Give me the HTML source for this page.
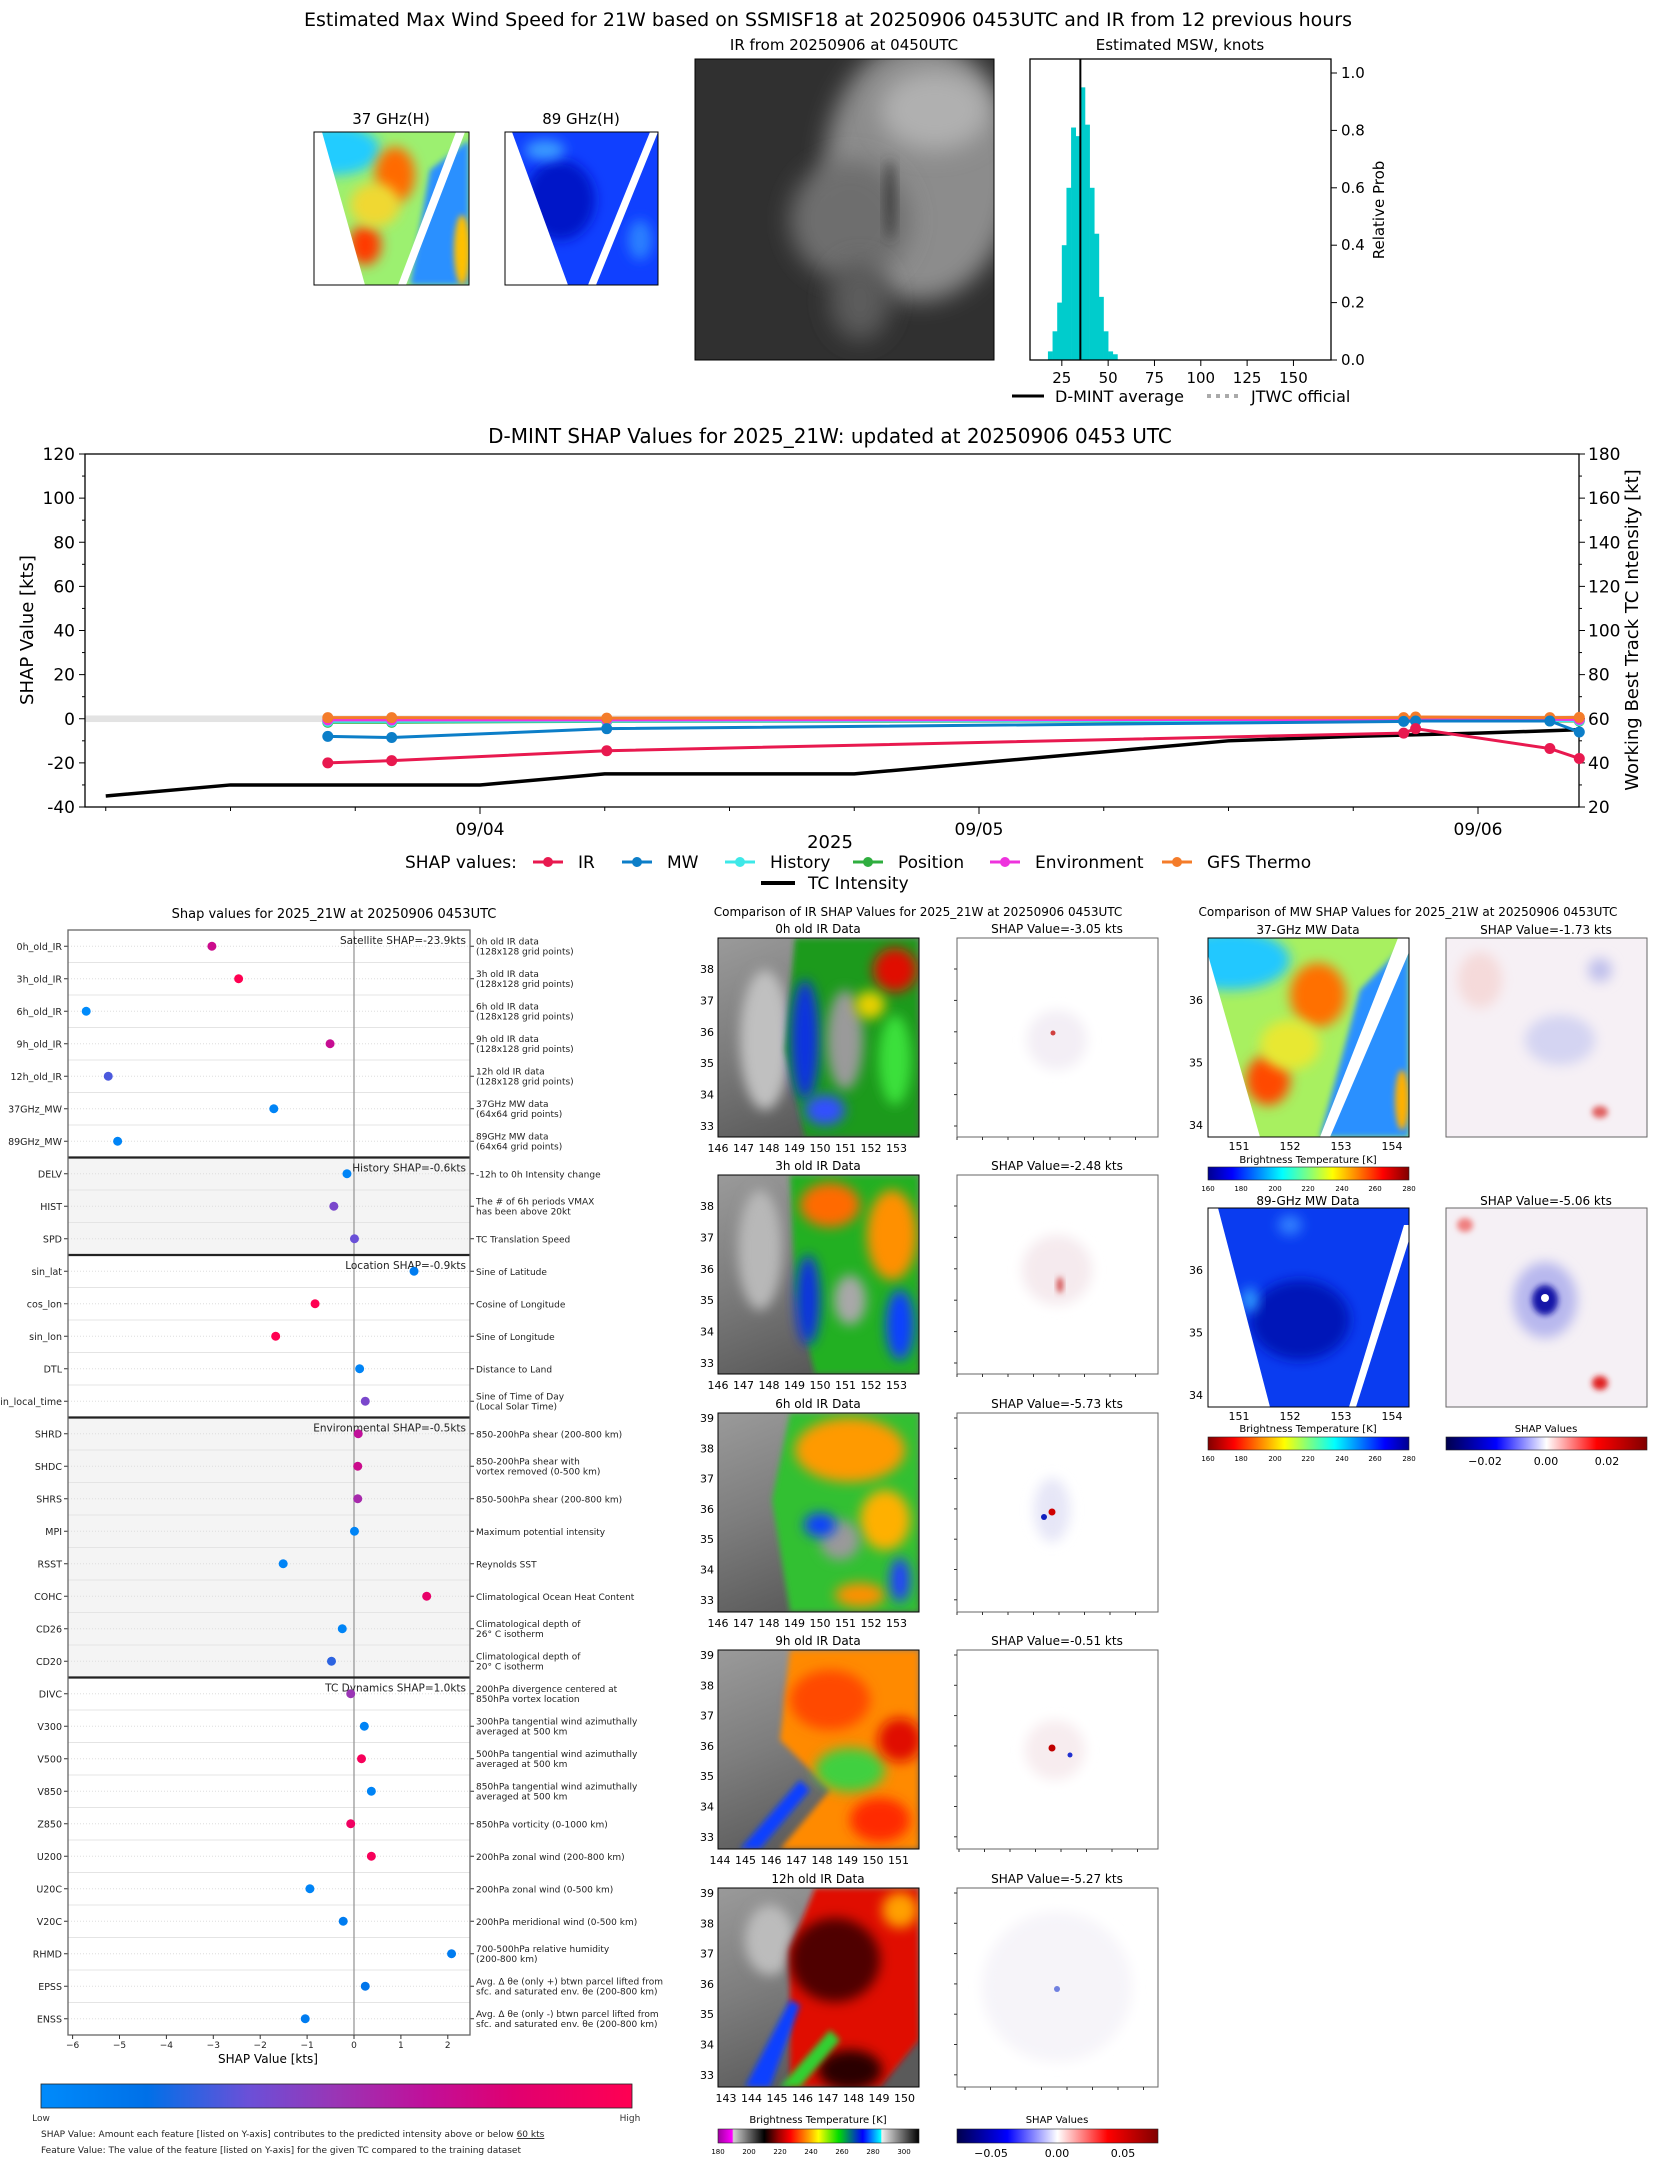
<!DOCTYPE html>
<html><head><meta charset="utf-8">
<style>
html,body{margin:0;padding:0;background:#fff;}
svg{display:block;font-family:"DejaVu Sans","Liberation Sans",sans-serif;}
</style></head>
<body>
<svg id="root" width="1655" height="2158" viewBox="0 0 1655 2158" xmlns="http://www.w3.org/2000/svg">
<defs>
<filter id="b12" x="-50%" y="-50%" width="200%" height="200%"><feGaussianBlur stdDeviation="12"/></filter>
<filter id="b6" x="-50%" y="-50%" width="200%" height="200%"><feGaussianBlur stdDeviation="6"/></filter>
<filter id="b3" x="-50%" y="-50%" width="200%" height="200%"><feGaussianBlur stdDeviation="3"/></filter>
<linearGradient id="jet" x1="0" x2="1"><stop offset="0" stop-color="#00008f"/><stop offset="0.12" stop-color="#0000ff"/><stop offset="0.37" stop-color="#00ffff"/><stop offset="0.5" stop-color="#7fff7f"/><stop offset="0.62" stop-color="#ffff00"/><stop offset="0.87" stop-color="#ff0000"/><stop offset="1" stop-color="#800000"/></linearGradient>
<linearGradient id="jetr" x1="1" x2="0"><stop offset="0" stop-color="#00008f"/><stop offset="0.12" stop-color="#0000ff"/><stop offset="0.37" stop-color="#00ffff"/><stop offset="0.5" stop-color="#7fff7f"/><stop offset="0.62" stop-color="#ffff00"/><stop offset="0.87" stop-color="#ff0000"/><stop offset="1" stop-color="#800000"/></linearGradient>
<linearGradient id="seis" x1="0" x2="1"><stop offset="0" stop-color="#00004c"/><stop offset="0.25" stop-color="#0000ff"/><stop offset="0.5" stop-color="#ffffff"/><stop offset="0.75" stop-color="#ff0000"/><stop offset="1" stop-color="#800000"/></linearGradient>
<linearGradient id="shapcm" x1="0" x2="1"><stop offset="0" stop-color="#008bfb"/><stop offset="0.18" stop-color="#0070e8"/><stop offset="0.35" stop-color="#6a50d8"/><stop offset="0.5" stop-color="#9a35b5"/><stop offset="0.65" stop-color="#c0109a"/><stop offset="0.8" stop-color="#e00070"/><stop offset="1" stop-color="#ff0052"/></linearGradient>
<linearGradient id="ircm" x1="0" x2="1">
<stop offset="0" stop-color="#a000a0"/><stop offset="0.07" stop-color="#ff00ff"/><stop offset="0.077" stop-color="#d0d0d0"/><stop offset="0.23" stop-color="#000"/><stop offset="0.3" stop-color="#900"/><stop offset="0.36" stop-color="#f00"/><stop offset="0.45" stop-color="#ffa000"/><stop offset="0.5" stop-color="#ff0"/><stop offset="0.6" stop-color="#0d0"/><stop offset="0.72" stop-color="#00f"/><stop offset="0.81" stop-color="#0ff"/><stop offset="0.815" stop-color="#eee"/><stop offset="1" stop-color="#000"/></linearGradient>
<linearGradient id="gray1" x1="0" y1="0" x2="0.4" y2="1"><stop offset="0" stop-color="#9a9a9a"/><stop offset="0.5" stop-color="#7d7d7d"/><stop offset="1" stop-color="#5a5a5a"/></linearGradient>
<clipPath id="c0"><rect x="718" y="938" width="201" height="199"/></clipPath>
<clipPath id="c1"><rect x="718" y="1175" width="201" height="199"/></clipPath>
<clipPath id="c2"><rect x="718" y="1413" width="201" height="199"/></clipPath>
<clipPath id="c3"><rect x="718" y="1650" width="201" height="199"/></clipPath>
<clipPath id="c4"><rect x="718" y="1888" width="201" height="199"/></clipPath>
<clipPath id="ctop"><rect x="695" y="59" width="299" height="301"/></clipPath>
<clipPath id="cm37"><rect x="1208" y="938" width="201" height="199"/></clipPath>
<clipPath id="cm89"><rect x="1208" y="1208" width="201" height="199"/></clipPath>
<clipPath id="cms1"><rect x="1446" y="938" width="201" height="199"/></clipPath>
<clipPath id="cms2"><rect x="1446" y="1208" width="201" height="199"/></clipPath>
<clipPath id="ct37"><rect x="314" y="132" width="155" height="153"/></clipPath>
<clipPath id="ct89"><rect x="505" y="132" width="153" height="153"/></clipPath>
<clipPath id="csi"><rect x="957" y="938" width="201" height="1149"/></clipPath>
</defs>

<!-- ============ TOP SECTION ============ -->
<text x="828" y="26" font-size="19" text-anchor="middle">Estimated Max Wind Speed for 21W based on SSMISF18 at 20250906 0453UTC and IR from 12 previous hours</text>
<text x="391" y="124" font-size="15" text-anchor="middle">37 GHz(H)</text>
<text x="581" y="124" font-size="15" text-anchor="middle">89 GHz(H)</text>
<g clip-path="url(#ct37)">
<rect x="314" y="132" width="155" height="153" fill="#9cf070"/>
<ellipse cx="335" cy="150" rx="45" ry="25" fill="#22ccff" filter="url(#b6)"/>
<ellipse cx="395" cy="175" rx="20" ry="28" fill="#ff6a00" filter="url(#b6)"/>
<ellipse cx="365" cy="245" rx="16" ry="20" fill="#ff3a00" filter="url(#b6)"/>
<ellipse cx="375" cy="205" rx="25" ry="22" fill="#f0d830" filter="url(#b6)"/>
<polygon points="430,170 469,140 469,285 410,285" fill="#2a90ff" filter="url(#b3)"/>
<ellipse cx="462" cy="250" rx="8" ry="35" fill="#ffc000" filter="url(#b3)"/>
<polygon points="314,132 322,132 365,285 314,285" fill="#fff"/>
<polygon points="456,132 465,132 406,285 398,285" fill="#fff"/>
</g>
<rect x="314" y="132" width="155" height="153" fill="none" stroke="#000" stroke-width="1"/>
<g clip-path="url(#ct89)">
<rect x="505" y="132" width="153" height="153" fill="#1040ff"/>
<ellipse cx="560" cy="200" rx="35" ry="40" fill="#0014c8" filter="url(#b6)"/>
<ellipse cx="545" cy="150" rx="20" ry="10" fill="#3a9cff" filter="url(#b6)"/>
<ellipse cx="640" cy="240" rx="12" ry="20" fill="#2a80ff" filter="url(#b6)"/>
<polygon points="505,132 512,132 568,285 505,285" fill="#fff"/>
<polygon points="650,132 658,132 596,285 588,285" fill="#fff"/>
</g>
<rect x="505" y="132" width="153" height="153" fill="none" stroke="#000"/>
<text x="844" y="50" font-size="15" text-anchor="middle">IR from 20250906 at 0450UTC</text>
<g clip-path="url(#ctop)">
<rect x="695" y="59" width="299" height="301" fill="#303030"/>
<ellipse cx="920" cy="170" rx="95" ry="130" fill="#8c8c8c" filter="url(#b12)"/>
<ellipse cx="850" cy="220" rx="60" ry="60" fill="#6e6e6e" filter="url(#b12)"/>
<ellipse cx="935" cy="110" rx="55" ry="40" fill="#b0b0b0" filter="url(#b12)"/>
<ellipse cx="860" cy="300" rx="30" ry="40" fill="#5c5c5c" filter="url(#b12)"/>
<ellipse cx="890" cy="200" rx="5" ry="40" fill="#3a3a3a" filter="url(#b6)"/>
</g>
<rect x="695" y="59" width="299" height="301" fill="none" stroke="#000"/>
<text x="1180" y="50" font-size="15" text-anchor="middle">Estimated MSW, knots</text>
<g id="hist"></g>
<rect x="1030" y="59" width="301" height="301" fill="none" stroke="#000" stroke-width="1.3"/>
<text transform="translate(1374,210) rotate(-90)" font-size="15" text-anchor="middle" dy="10">Relative Prob</text>
<g>
<line x1="1012" y1="396" x2="1044" y2="396" stroke="#000" stroke-width="3"/>
<text x="1055" y="402" font-size="16">D-MINT average</text>
<line x1="1207" y1="396" x2="1239" y2="396" stroke="#aaa" stroke-width="4" stroke-dasharray="4,5"/>
<text x="1251" y="402" font-size="16">JTWC official</text>
</g>

<!-- ============ MIDDLE CHART ============ -->
<text x="830" y="443" font-size="20" text-anchor="middle">D-MINT SHAP Values for 2025_21W: updated at 20250906 0453 UTC</text>
<g id="ts"></g>
<text transform="translate(33,630) rotate(-90)" font-size="18" text-anchor="middle">SHAP Value [kts]</text>
<text transform="translate(1638,630) rotate(-90)" font-size="18" text-anchor="middle">Working Best Track TC Intensity [kt]</text>
<text x="830" y="848" font-size="18" text-anchor="middle">2025</text>
<g>
<text x="405" y="868" font-size="17">SHAP values:</text>
<g><line x1="533" y1="862" x2="563" y2="862" stroke="#e8194f" stroke-width="3"/><circle cx="548" cy="862" r="5" fill="#e8194f"/><text x="578" y="868" font-size="17">IR</text></g>
<g><line x1="622" y1="862" x2="652" y2="862" stroke="#0c7ec8" stroke-width="3"/><circle cx="637" cy="862" r="5" fill="#0c7ec8"/><text x="667" y="868" font-size="17">MW</text></g>
<g><line x1="725" y1="862" x2="755" y2="862" stroke="#3ee8e8" stroke-width="3"/><circle cx="740" cy="862" r="5" fill="#3ee8e8"/><text x="770" y="868" font-size="17">History</text></g>
<g><line x1="853" y1="862" x2="883" y2="862" stroke="#2fae3f" stroke-width="3"/><circle cx="868" cy="862" r="5" fill="#2fae3f"/><text x="898" y="868" font-size="17">Position</text></g>
<g><line x1="990" y1="862" x2="1020" y2="862" stroke="#ee33dd" stroke-width="3"/><circle cx="1005" cy="862" r="5" fill="#ee33dd"/><text x="1035" y="868" font-size="17">Environment</text></g>
<g><line x1="1162" y1="862" x2="1192" y2="862" stroke="#f47c2a" stroke-width="3"/><circle cx="1177" cy="862" r="5" fill="#f47c2a"/><text x="1207" y="868" font-size="17">GFS Thermo</text></g>
<g><line x1="761" y1="883" x2="795" y2="883" stroke="#000" stroke-width="4"/><text x="808" y="889" font-size="17">TC Intensity</text></g>
</g>

<!-- ============ LEFT SHAP PANEL ============ -->
<text x="334" y="918" font-size="13" text-anchor="middle">Shap values for 2025_21W at 20250906 0453UTC</text>
<g id="sp"></g>
<text x="268" y="2063" font-size="12" text-anchor="middle">SHAP Value [kts]</text>
<rect x="41" y="2084" width="591" height="24" fill="url(#shapcm)" stroke="#222" stroke-width="0.8"/>
<text x="41" y="2121" font-size="9" text-anchor="middle" fill="#333">Low</text>
<text x="630" y="2121" font-size="9" text-anchor="middle" fill="#333">High</text>
<text x="41" y="2137" font-size="9" fill="#222">SHAP Value: Amount each feature [listed on Y-axis] contributes to the predicted intensity above or below <tspan text-decoration="underline">60 kts</tspan></text>
<text x="41" y="2153" font-size="9" fill="#222">Feature Value: The value of the feature [listed on Y-axis] for the given TC compared to the training dataset</text>

<!-- ============ IR COMPARISON ============ -->
<text x="918" y="916" font-size="12" text-anchor="middle">Comparison of IR SHAP Values for 2025_21W at 20250906 0453UTC</text>
<text x="1408" y="916" font-size="12" text-anchor="middle">Comparison of MW SHAP Values for 2025_21W at 20250906 0453UTC</text>

<!-- 0h IR -->
<g clip-path="url(#c0)">
<rect x="718" y="938" width="201" height="199" fill="url(#gray1)"/>
<ellipse cx="765" cy="1040" rx="25" ry="70" fill="#c0c0c0" filter="url(#b6)"/>
<polygon points="795,938 919,938 919,1137 805,1137 785,1050" fill="#1a9a1a" filter="url(#b3)"/>
<ellipse cx="805" cy="1040" rx="14" ry="60" fill="#1030e0" filter="url(#b6)"/>
<ellipse cx="845" cy="1040" rx="18" ry="50" fill="#9a9a9a" filter="url(#b6)"/>
<ellipse cx="895" cy="970" rx="22" ry="22" fill="#e01000" filter="url(#b6)"/>
<ellipse cx="870" cy="1005" rx="15" ry="14" fill="#e8d000" filter="url(#b6)"/>
<ellipse cx="895" cy="1060" rx="16" ry="45" fill="#3ae03a" filter="url(#b6)"/>
<ellipse cx="825" cy="1110" rx="20" ry="15" fill="#3050ff" filter="url(#b6)"/>
</g>
<rect x="718" y="938" width="201" height="199" fill="none" stroke="#000"/>
<text x="818" y="933" font-size="12" text-anchor="middle">0h old IR Data</text>
<!-- 3h IR -->
<g clip-path="url(#c1)">
<rect x="718" y="1175" width="201" height="199" fill="url(#gray1)"/>
<ellipse cx="760" cy="1250" rx="22" ry="60" fill="#b8b8b8" filter="url(#b6)"/>
<polygon points="790,1175 919,1175 919,1374 815,1374 795,1290" fill="#22b022" filter="url(#b3)"/>
<ellipse cx="830" cy="1205" rx="30" ry="22" fill="#ff6a00" filter="url(#b6)"/>
<ellipse cx="892" cy="1235" rx="25" ry="45" fill="#ff9000" filter="url(#b6)"/>
<ellipse cx="850" cy="1300" rx="16" ry="25" fill="#a8a8a8" filter="url(#b6)"/>
<ellipse cx="808" cy="1300" rx="12" ry="45" fill="#1030e0" filter="url(#b6)"/>
<ellipse cx="900" cy="1325" rx="14" ry="35" fill="#1040ff" filter="url(#b6)"/>
</g>
<rect x="718" y="1175" width="201" height="199" fill="none" stroke="#000"/>
<text x="818" y="1170" font-size="12" text-anchor="middle">3h old IR Data</text>
<!-- 6h IR -->
<g clip-path="url(#c2)">
<rect x="718" y="1413" width="201" height="199" fill="url(#gray1)"/>
<polygon points="790,1413 919,1413 919,1612 790,1612 772,1500" fill="#30c030" filter="url(#b3)"/>
<ellipse cx="850" cy="1450" rx="55" ry="32" fill="#ff9a00" filter="url(#b6)"/>
<ellipse cx="885" cy="1520" rx="25" ry="30" fill="#ffb000" filter="url(#b6)"/>
<ellipse cx="840" cy="1540" rx="20" ry="20" fill="#9a9a9a" filter="url(#b6)"/>
<ellipse cx="820" cy="1525" rx="16" ry="12" fill="#1040ff" filter="url(#b6)"/>
<ellipse cx="860" cy="1595" rx="25" ry="12" fill="#ff9000" filter="url(#b6)"/>
<ellipse cx="900" cy="1580" rx="10" ry="22" fill="#2040ff" filter="url(#b6)"/>
</g>
<rect x="718" y="1413" width="201" height="199" fill="none" stroke="#000"/>
<text x="818" y="1408" font-size="12" text-anchor="middle">6h old IR Data</text>
<!-- 9h IR -->
<g clip-path="url(#c3)">
<rect x="718" y="1650" width="201" height="199" fill="url(#gray1)"/>
<polygon points="790,1650 919,1650 919,1849 780,1849 830,1790 780,1740" fill="#ff8a00" filter="url(#b3)"/>
<ellipse cx="830" cy="1700" rx="40" ry="30" fill="#ff4a00" filter="url(#b6)"/>
<ellipse cx="850" cy="1770" rx="35" ry="22" fill="#40d040" filter="url(#b6)"/>
<ellipse cx="900" cy="1740" rx="22" ry="22" fill="#e01000" filter="url(#b6)"/>
<ellipse cx="880" cy="1820" rx="30" ry="22" fill="#ff2a00" filter="url(#b6)"/>
<polygon points="740,1849 800,1780 810,1790 760,1849" fill="#1040ff" filter="url(#b3)"/>
</g>
<rect x="718" y="1650" width="201" height="199" fill="none" stroke="#000"/>
<text x="818" y="1645" font-size="12" text-anchor="middle">9h old IR Data</text>
<!-- 12h IR -->
<g clip-path="url(#c4)">
<rect x="718" y="1888" width="201" height="199" fill="url(#gray1)"/>
<ellipse cx="770" cy="1940" rx="25" ry="35" fill="#bcbcbc" filter="url(#b6)"/>
<polygon points="815,1888 919,1888 919,2040 880,2087 790,2087 790,1950" fill="#e01000" filter="url(#b3)"/>
<ellipse cx="835" cy="1960" rx="45" ry="42" fill="#500000" filter="url(#b6)"/>
<ellipse cx="900" cy="1910" rx="18" ry="18" fill="#ffa000" filter="url(#b6)"/>
<ellipse cx="850" cy="2070" rx="32" ry="20" fill="#2a0000" filter="url(#b6)"/>
<polygon points="745,2087 790,2000 800,2005 770,2087" fill="#1040ff" filter="url(#b3)"/>
<polygon points="780,2087 830,2030 840,2040 800,2087" fill="#30d030" filter="url(#b3)"/>
</g>
<rect x="718" y="1888" width="201" height="199" fill="none" stroke="#000"/>
<text x="818" y="1883" font-size="12" text-anchor="middle">12h old IR Data</text>

<!-- IR SHAP maps -->
<g>
<rect x="957" y="938" width="201" height="199" fill="#fff" stroke="#666"/>
<ellipse cx="1057" cy="1040" rx="30" ry="30" fill="#f3eef5" filter="url(#b6)"/>
<circle cx="1053" cy="1033" r="2.5" fill="#d04040"/>
<rect x="957" y="1175" width="201" height="199" fill="#fff" stroke="#666"/>
<ellipse cx="1057" cy="1270" rx="35" ry="35" fill="#f5eaee" filter="url(#b6)"/>
<ellipse cx="1060" cy="1285" rx="3" ry="8" fill="#d04040" filter="url(#b3)"/>
<rect x="957" y="1413" width="201" height="199" fill="#fff" stroke="#666"/>
<ellipse cx="1052" cy="1510" rx="18" ry="32" fill="#e6e6f7" filter="url(#b6)"/>
<circle cx="1052" cy="1512" r="3.5" fill="#d00000"/>
<circle cx="1044" cy="1517" r="3" fill="#1020c0"/>
<rect x="957" y="1650" width="201" height="199" fill="#fff" stroke="#666"/>
<ellipse cx="1055" cy="1750" rx="30" ry="30" fill="#f7ecef" filter="url(#b6)"/>
<circle cx="1052" cy="1748" r="3.5" fill="#c00000"/>
<circle cx="1070" cy="1755" r="2.5" fill="#2030d0"/>
<rect x="957" y="1888" width="201" height="199" fill="#fff" stroke="#666"/>
<ellipse cx="1057" cy="1987" rx="75" ry="75" fill="#f6f4f9" filter="url(#b6)"/>
<circle cx="1057" cy="1989" r="3" fill="#7080e0"/>
</g>
<text x="1057" y="933" font-size="12" text-anchor="middle">SHAP Value=-3.05 kts</text>
<text x="1057" y="1170" font-size="12" text-anchor="middle">SHAP Value=-2.48 kts</text>
<text x="1057" y="1408" font-size="12" text-anchor="middle">SHAP Value=-5.73 kts</text>
<text x="1057" y="1645" font-size="12" text-anchor="middle">SHAP Value=-0.51 kts</text>
<text x="1057" y="1883" font-size="12" text-anchor="middle">SHAP Value=-5.27 kts</text>
<g id="irticks" font-size="11"></g>
<text x="818" y="2123" font-size="10" text-anchor="middle">Brightness Temperature [K]</text>
<rect x="718" y="2129" width="201" height="14" fill="url(#ircm)" stroke="#222" stroke-width="0.6"/>
<g font-size="7" text-anchor="middle"><text x="718" y="2154">180</text><text x="749" y="2154">200</text><text x="780" y="2154">220</text><text x="811" y="2154">240</text><text x="842" y="2154">260</text><text x="873" y="2154">280</text><text x="904" y="2154">300</text></g>
<text x="1057" y="2123" font-size="10" text-anchor="middle">SHAP Values</text>
<rect x="957" y="2129" width="201" height="14" fill="url(#seis)" stroke="#222" stroke-width="0.6"/>
<g font-size="11" text-anchor="middle"><text x="991" y="2157">−0.05</text><text x="1057" y="2157">0.00</text><text x="1123" y="2157">0.05</text></g>

<!-- MW -->
<text x="1308" y="934" font-size="12" text-anchor="middle">37-GHz MW Data</text>
<g clip-path="url(#cm37)">
<rect x="1208" y="938" width="201" height="199" fill="#a8f060"/>
<ellipse cx="1230" cy="960" rx="60" ry="30" fill="#20c8ff" filter="url(#b6)"/>
<ellipse cx="1318" cy="995" rx="28" ry="32" fill="#ff7000" filter="url(#b6)"/>
<ellipse cx="1268" cy="1080" rx="22" ry="25" fill="#ff4a00" filter="url(#b6)"/>
<ellipse cx="1290" cy="1045" rx="30" ry="25" fill="#e8e830" filter="url(#b6)"/>
<polygon points="1360,990 1409,940 1409,1137 1320,1137" fill="#2a90ff" filter="url(#b3)"/>
<ellipse cx="1402" cy="1100" rx="7" ry="30" fill="#ffb000" filter="url(#b3)"/>
<polygon points="1208,938 1208,955 1260,1137 1208,1137" fill="#fff"/>
<polygon points="1398,938 1409,938 1409,952 1330,1137 1320,1137" fill="#fff"/>
</g>
<rect x="1208" y="938" width="201" height="199" fill="none" stroke="#000"/>
<text x="1546" y="934" font-size="12" text-anchor="middle">SHAP Value=-1.73 kts</text>
<g clip-path="url(#cms1)">
<rect x="1446" y="938" width="201" height="199" fill="#f6f0f5"/>
<ellipse cx="1480" cy="980" rx="22" ry="28" fill="#f5dada" filter="url(#b6)"/>
<ellipse cx="1560" cy="1040" rx="35" ry="25" fill="#d4d4f2" filter="url(#b6)"/>
<ellipse cx="1600" cy="970" rx="12" ry="12" fill="#c0c0ec" filter="url(#b6)"/>
<ellipse cx="1600" cy="1112" rx="8" ry="6" fill="#e06060" filter="url(#b3)"/>
</g>
<rect x="1446" y="938" width="201" height="199" fill="none" stroke="#666"/>
<text x="1308" y="1163" font-size="10" text-anchor="middle">Brightness Temperature [K]</text>
<rect x="1208" y="1167" width="201" height="13" fill="url(#jet)" stroke="#222" stroke-width="0.6"/>
<g font-size="7" text-anchor="middle"><text x="1208" y="1191">160</text><text x="1241" y="1191">180</text><text x="1275" y="1191">200</text><text x="1308" y="1191">220</text><text x="1342" y="1191">240</text><text x="1375" y="1191">260</text><text x="1409" y="1191">280</text></g>

<text x="1308" y="1205" font-size="12" text-anchor="middle">89-GHz MW Data</text>
<g clip-path="url(#cm89)">
<rect x="1208" y="1208" width="201" height="199" fill="#0a3cf0"/>
<ellipse cx="1300" cy="1320" rx="50" ry="40" fill="#0018b8" filter="url(#b6)"/>
<ellipse cx="1250" cy="1300" rx="8" ry="12" fill="#30a0ff" filter="url(#b6)"/>
<ellipse cx="1290" cy="1225" rx="12" ry="10" fill="#3080ff" filter="url(#b6)"/>
<polygon points="1208,1208 1218,1208 1270,1407 1208,1407" fill="#fff"/>
<polygon points="1404,1225 1409,1225 1409,1240 1356,1407 1349,1407" fill="#fff"/>
</g>
<rect x="1208" y="1208" width="201" height="199" fill="none" stroke="#000"/>
<text x="1546" y="1205" font-size="12" text-anchor="middle">SHAP Value=-5.06 kts</text>
<g clip-path="url(#cms2)">
<rect x="1446" y="1208" width="201" height="199" fill="#f5f0f5"/>
<ellipse cx="1545" cy="1300" rx="32" ry="38" fill="#b8b8ee" filter="url(#b6)"/>
<ellipse cx="1545" cy="1300" rx="13" ry="15" fill="#1818a8" filter="url(#b3)"/>
<circle cx="1545" cy="1298" r="4" fill="#fff"/>
<ellipse cx="1600" cy="1383" rx="8" ry="7" fill="#e02020" filter="url(#b3)"/>
<ellipse cx="1465" cy="1225" rx="8" ry="7" fill="#f08080" filter="url(#b3)"/>
</g>
<rect x="1446" y="1208" width="201" height="199" fill="none" stroke="#666"/>
<text x="1308" y="1432" font-size="10" text-anchor="middle">Brightness Temperature [K]</text>
<rect x="1208" y="1437" width="201" height="13" fill="url(#jetr)" stroke="#222" stroke-width="0.6"/>
<g font-size="7" text-anchor="middle"><text x="1208" y="1461">160</text><text x="1241" y="1461">180</text><text x="1275" y="1461">200</text><text x="1308" y="1461">220</text><text x="1342" y="1461">240</text><text x="1375" y="1461">260</text><text x="1409" y="1461">280</text></g>
<text x="1546" y="1432" font-size="10" text-anchor="middle">SHAP Values</text>
<rect x="1446" y="1437" width="201" height="13" fill="url(#seis)" stroke="#222" stroke-width="0.6"/>
<g font-size="11" text-anchor="middle"><text x="1485" y="1465">−0.02</text><text x="1546" y="1465">0.00</text><text x="1607" y="1465">0.02</text></g>
<g id="mwticks" font-size="11"></g>
</svg>

<script>
// ===== Histogram data =====
const histBinStart = [17.5,20,22.5,25,27.5,30,32.5,35,37.5,40,42.5,45,47.5,50,52.5];
const histProb = [0.03,0.1,0.2,0.4,0.6,0.81,0.78,0.95,0.82,0.6,0.44,0.22,0.1,0.03,0.02];
const histTicksX = [25,50,75,100,125,150];
const histTicksY = [0.0,0.2,0.4,0.6,0.8,1.0];
const dmintAvg = 35;

// ===== Timeseries data (days from 09/04 00Z) =====
const shapTimes = [-0.305,-0.177,0.254,1.851,1.875,2.144,2.203];
const shapIR = [-20,-19,-14.5,-6.5,-4.5,-13.5,-18];
const shapMW = [-8,-8.5,-4.5,-1.2,-1.0,-1.0,-6];
const shapHistory = [-1.2,-1.2,-1,-0.8,-0.8,-0.8,-0.8];
const shapPosition = [-1.6,-1.6,-1.2,-1,-1,-1,-1];
const shapEnv = [-0.5,-0.5,-0.5,-0.3,-0.3,-0.3,-0.3];
const shapGFS = [0.5,0.5,0.3,0.5,0.8,0.5,0.6];
const tcTimes = [-0.75,-0.5,-0.25,0,0.25,0.5,0.75,1,1.25,1.5,1.75,2,2.2];
const tcIntensity = [25,30,30,30,35,35,35,40,45,50,52,53.5,55];
const leftTicks = [-40,-20,0,20,40,60,80,100,120];
const rightTicks = [20,40,60,80,100,120,140,160,180];
const dateTicks = [0,1,2];
const dateLabels = ["09/04","09/05","09/06"];

// ===== Feature SHAP data =====
const features = ["0h_old_IR","3h_old_IR","6h_old_IR","9h_old_IR","12h_old_IR","37GHz_MW","89GHz_MW","DELV","HIST","SPD","sin_lat","cos_lon","sin_lon","DTL","sin_local_time","SHRD","SHDC","SHRS","MPI","RSST","COHC","CD26","CD20","DIVC","V300","V500","V850","Z850","U200","U20C","V20C","RHMD","EPSS","ENSS"];
const featShap = [-3.03,-2.46,-5.71,-0.51,-5.24,-1.71,-5.04,-0.15,-0.43,0.01,1.28,-0.83,-1.67,0.12,0.24,0.09,0.08,0.08,0.01,-1.51,1.55,-0.25,-0.48,-0.07,0.22,0.16,0.37,-0.07,0.37,-0.94,-0.23,2.08,0.24,-1.04];
const featValue = [0.7,1.0,0.0,0.68,0.3,0.05,0.05,0.05,0.4,0.35,0.1,1.0,1.0,0.05,0.4,0.65,0.7,0.55,0.05,0.05,0.85,0.05,0.25,0.5,0.05,0.95,0.05,0.9,0.95,0.05,0.1,0.1,0.15,0.1];
const featDesc = [["0h old IR data","(128x128 grid points)"],["3h old IR data","(128x128 grid points)"],["6h old IR data","(128x128 grid points)"],["9h old IR data","(128x128 grid points)"],["12h old IR data","(128x128 grid points)"],["37GHz MW data","(64x64 grid points)"],["89GHz MW data","(64x64 grid points)"],["-12h to 0h Intensity change"],["The # of 6h periods VMAX","has been above 20kt"],["TC Translation Speed"],["Sine of Latitude"],["Cosine of Longitude"],["Sine of Longitude"],["Distance to Land"],["Sine of Time of Day","(Local Solar Time)"],["850-200hPa shear (200-800 km)"],["850-200hPa shear with","vortex removed (0-500 km)"],["850-500hPa shear (200-800 km)"],["Maximum potential intensity"],["Reynolds SST"],["Climatological Ocean Heat Content"],["Climatological depth of","26° C isotherm"],["Climatological depth of","20° C isotherm"],["200hPa divergence centered at","850hPa vortex location"],["300hPa tangential wind azimuthally","averaged at 500 km"],["500hPa tangential wind azimuthally","averaged at 500 km"],["850hPa tangential wind azimuthally","averaged at 500 km"],["850hPa vorticity (0-1000 km)"],["200hPa zonal wind (200-800 km)"],["200hPa zonal wind (0-500 km)"],["200hPa meridional wind (0-500 km)"],["700-500hPa relative humidity","(200-800 km)"],["Avg. Δ θe (only +) btwn parcel lifted from","sfc. and saturated env. θe (200-800 km)"],["Avg. Δ θe (only -) btwn parcel lifted from","sfc. and saturated env. θe (200-800 km)"]];
const groupNames = ["Satellite SHAP=-23.9kts","History SHAP=-0.6kts","Location SHAP=-0.9kts","Environmental SHAP=-0.5kts","TC Dynamics SHAP=1.0kts"];
const groupStart = [0,7,10,15,23];
const groupShaded = [false,true,false,true,false];
const shapTicks = [-6,-5,-4,-3,-2,-1,0,1,2];

const NS = "http://www.w3.org/2000/svg";
function mk(tag, attrs, parent){const e=document.createElementNS(NS,tag);for(const k in attrs)e.setAttribute(k,attrs[k]);parent.appendChild(e);return e;}

// ---- Histogram ----
(function(){
  const g=document.getElementById('hist');
  const hx=v=>1015.5+1.853*v, hy=p=>360-287*p;
  histBinStart.forEach((b,i)=>{
    const r=mk('rect',{x:hx(b),y:hy(histProb[i]),width:hx(b+2.5)-hx(b)+0.3,height:360-hy(histProb[i]),fill:'#00cccc'},g);
    
    
  });
  const l=mk('line',{x1:hx(dmintAvg),x2:hx(dmintAvg),y1:59,y2:360,stroke:'#000','stroke-width':2},g);
  
  
  histTicksX.forEach(t=>{
    mk('line',{x1:hx(t),x2:hx(t),y1:360,y2:366,stroke:'#000'},g);
    const tx=mk('text',{x:hx(t),y:383,'font-size':15,'text-anchor':'middle'},g);tx.textContent=t;
    
    
  });
  histTicksY.forEach(t=>{
    mk('line',{x1:1331,x2:1337,y1:hy(t),y2:hy(t),stroke:'#000'},g);
    const tx=mk('text',{x:1341,y:hy(t)+5,'font-size':15},g);tx.textContent=t.toFixed(1);
    
    
  });
})();

// ---- Timeseries ----
(function(){
  const g=document.getElementById('ts');
  const X0=85,X1=1579,Y0=807,Y1=454;
  const xd=t=>480+499*t, yl=v=>Y0-(v+40)*(Y0-Y1)/160, yr=k=>Y0-(k-20)*(Y0-Y1)/160;
  mk('rect',{x:X0,y:yl(1.5),width:X1-X0,height:yl(-1.5)-yl(1.5),fill:'#e3e3e3'},g);
  mk('rect',{x:X0,y:Y1,width:X1-X0,height:Y0-Y1,fill:'none',stroke:'#000','stroke-width':1.3},g);
  leftTicks.forEach((t,i)=>{
    mk('line',{x1:X0-6,x2:X0,y1:yl(t),y2:yl(t),stroke:'#000'},g);
    if(i<leftTicks.length-1) mk('line',{x1:X0-3,x2:X0,y1:yl(t+10),y2:yl(t+10),stroke:'#000'},g);
    const tx=mk('text',{x:X0-10,y:yl(t)+6,'font-size':17,'text-anchor':'end'},g);tx.textContent=t;
    
    
  });
  rightTicks.forEach((t,i)=>{
    mk('line',{x1:X1,x2:X1+6,y1:yr(t),y2:yr(t),stroke:'#000'},g);
    if(i<rightTicks.length-1) mk('line',{x1:X1,x2:X1+3,y1:yr(t+10),y2:yr(t+10),stroke:'#000'},g);
    const tx=mk('text',{x:X1+9,y:yr(t)+6,'font-size':17},g);tx.textContent=t;
    
    
  });
  for(let t=-0.75;t<=2.2;t+=0.25){mk('line',{x1:xd(t),x2:xd(t),y1:Y0,y2:Y0+4,stroke:'#000'},g);}
  dateTicks.forEach((t,i)=>{
    mk('line',{x1:xd(t),x2:xd(t),y1:Y0,y2:Y0+7,stroke:'#000'},g);
    const tx=mk('text',{x:xd(t),y:Y0+28,'font-size':17,'text-anchor':'middle'},g);tx.textContent=dateLabels[i];
    
    
  });
  const tcp=mk('polyline',{points:tcTimes.map((t,i)=>xd(t)+','+yr(tcIntensity[i])).join(' '),fill:'none',stroke:'#000','stroke-width':3.5},g);
  
  
  const series=[[shapPosition,'#2fae3f','position'],[shapHistory,'#3ee8e8','history'],[shapEnv,'#ee33dd','environment'],[shapGFS,'#f47c2a','gfs-thermo'],[shapMW,'#0c7ec8','mw'],[shapIR,'#e8194f','ir']];
  series.forEach(s=>{
    const sg=mk('g',{},g);
    
    
    mk('polyline',{points:shapTimes.map((t,i)=>xd(t)+','+yl(s[0][i])).join(' '),fill:'none',stroke:s[1],'stroke-width':3},sg);
    shapTimes.forEach((t,i)=>{
      const c=mk('circle',{cx:xd(t),cy:yl(s[0][i]),r:5.5,fill:s[1]},sg);
      
      
    });
  });
})();

// ---- Feature SHAP panel ----
(function(){
  const g=document.getElementById('sp');
  const L=68,R=470,T=930,B=2035, rowH=(B-T)/features.length;
  const sx=v=>354+46.9*v, ry=i=>T+rowH*(i+0.5);
  const stops=[[0,[0,139,251]],[0.18,[0,112,232]],[0.35,[106,80,216]],[0.5,[154,53,181]],[0.65,[192,16,154]],[0.8,[224,0,112]],[1,[255,0,82]]];
  function col(v){for(let i=1;i<stops.length;i++){if(v<=stops[i][0]){const a=stops[i-1],b=stops[i],f=(v-a[0])/(b[0]-a[0]);return 'rgb('+a[1].map((c,j)=>Math.round(c+(b[1][j]-c)*f)).join(',')+')';}}return 'rgb(255,0,82)';}
  groupStart.forEach((s,gi)=>{
    const e=gi<groupStart.length-1?groupStart[gi+1]:features.length;
    if(groupShaded[gi]) mk('rect',{x:L,y:T+s*rowH,width:R-L,height:(e-s)*rowH,fill:'#f4f4f4'},g);
  });
  features.forEach((f,i)=>{
    if(i>0) mk('line',{x1:L,x2:R,y1:T+i*rowH,y2:T+i*rowH,stroke:'#e4e4e4','stroke-width':1},g);
    mk('line',{x1:L,x2:R,y1:ry(i),y2:ry(i),stroke:'#ddd','stroke-dasharray':'1,2'},g);
  });
  mk('line',{x1:sx(0),x2:sx(0),y1:T,y2:B,stroke:'#999','stroke-width':1.3},g);
  groupStart.forEach((s,gi)=>{
    if(s>0) mk('line',{x1:L,x2:R,y1:T+s*rowH,y2:T+s*rowH,stroke:'#222','stroke-width':2.2},g);
    const t=mk('text',{x:R-4,y:T+s*rowH+14,'font-size':10.5,'text-anchor':'end',fill:'#222'},g);t.textContent=groupNames[gi];
    
    
  });
  features.forEach((f,i)=>{
    mk('line',{x1:L-4,x2:L,y1:ry(i),y2:ry(i),stroke:'#333'},g);
    mk('line',{x1:R,x2:R+4,y1:ry(i),y2:ry(i),stroke:'#333'},g);
    const t=mk('text',{x:L-6,y:ry(i)+3.5,'font-size':9.5,'text-anchor':'end',fill:'#222'},g);t.textContent=f;
    
    
    const d=featDesc[i];
    d.forEach((line,k)=>{
      const yy=d.length===1?ry(i)+3.5:ry(i)-2+k*10;
      const dt=mk('text',{x:R+6,y:yy,'font-size':9,fill:'#222'},g);dt.textContent=line;
      
      
    });
    const c=mk('circle',{cx:sx(featShap[i]),cy:ry(i),r:4.5,fill:col(featValue[i])},g);
    
    
  });
  mk('rect',{x:L,y:T,width:R-L,height:B-T,fill:'none',stroke:'#666','stroke-width':1.3},g);
  shapTicks.forEach(t=>{
    mk('line',{x1:sx(t),x2:sx(t),y1:B,y2:B+4,stroke:'#333'},g);
    const tx=mk('text',{x:sx(t),y:B+13,'font-size':9,'text-anchor':'middle',fill:'#222'},g);tx.textContent=(t<0?'−':'')+Math.abs(t);
    
    
  });
})();

// ---- IR / MW axis tick labels ----
(function(){
  const g=document.getElementById('irticks');
  const tops=[938,1175,1413,1650,1888];
  const lonLabels=[[146,147,148,149,150,151,152,153],[146,147,148,149,150,151,152,153],[146,147,148,149,150,151,152,153],[144,145,146,147,148,149,150,151],[143,144,145,146,147,148,149,150]];
  const latLabels=[[38,37,36,35,34,33],[38,37,36,35,34,33],[39,38,37,36,35,34,33],[39,38,37,36,35,34,33],[39,38,37,36,35,34,33]];
  tops.forEach((top,r)=>{
    const nLat=latLabels[r].length;
    latLabels[r].forEach((v,k)=>{
      const y=top+(nLat===6?31:5)+k*(nLat===6?31.4:30.3);
      const t=mk('text',{x:714,y:y+4,'text-anchor':'end'},g);t.textContent=v;
      mk('line',{x1:954,x2:957,y1:y,y2:y,stroke:'#333'},g);
    });
    lonLabels[r].forEach((v,k)=>{
      const x=(r===4?726:718)+k*25.5+(r===3?2:0);
      const t=mk('text',{x:x,y:top+214,'text-anchor':'middle'},g);t.textContent=v;
      mk('line',{x1:x+239,x2:x+239,y1:top+199,y2:top+202,stroke:'#333'},g);
    });
  });
  const m=document.getElementById('mwticks');
  [[938,[36,35,34]],[1208,[36,35,34]]].forEach(p=>{
    p[1].forEach((v,k)=>{const y=p[0]+62+k*62.5;const t=mk('text',{x:1203,y:y+4,'text-anchor':'end'},m);t.textContent=v;});
    [151,152,153,154].forEach((v,k)=>{const x=1239+k*51;const t=mk('text',{x:x,y:p[0]+212,'text-anchor':'middle'},m);t.textContent=v;});
  });
})();
</script>
</body></html>
